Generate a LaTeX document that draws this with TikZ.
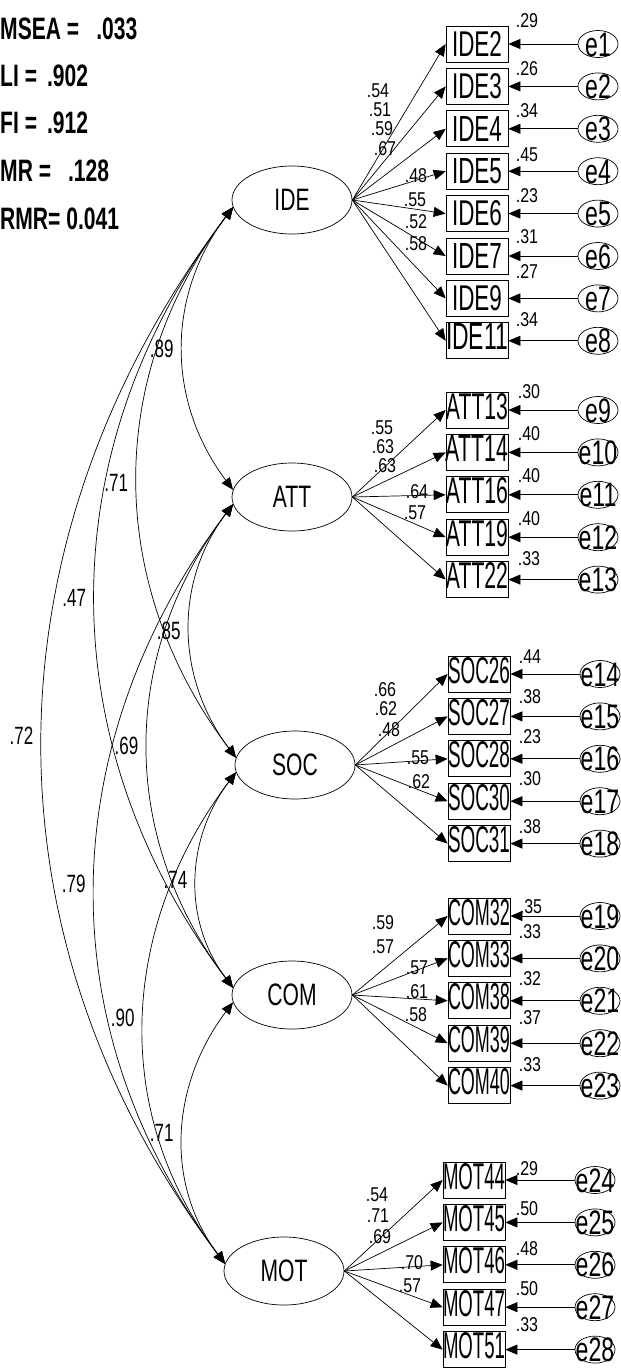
\documentclass[tikz,border=0pt]{standalone}
\usepackage{fontspec}
\setmainfont{Liberation Sans}[FakeStretch=0.68]
\newfontfamily\valuefont{Liberation Sans}[FakeStretch=0.8]
\usetikzlibrary{shapes.geometric,arrows.meta,positioning}

\newcommand{\obsname}[1]{\resizebox{50pt}{25pt}{#1}}
\newcommand{\obslong}[1]{\raisebox{4pt}[26pt][0pt]{\resizebox{62pt}{26pt}{#1}}}
\newcommand{\errname}[1]{\makebox[0pt]{\raisebox{-12pt}[0pt][0pt]{#1}}}

\tikzstyle{latent} = [
ellipse,
minimum width=120pt,
minimum height=68pt,
inner sep=0pt,
line width=0.7pt,
draw=black,
font=\fontsize{31}{31}\selectfont
]
\tikzstyle{observed} = [
rectangle,
minimum width=62pt,
minimum height=36pt,
inner sep=0pt,
line width=0.7pt,
draw=black
]
\tikzstyle{errvar} = [
ellipse,
minimum width=40pt,
minimum height=27pt,
inner sep=0pt,
line width=0.7pt,
draw=black,
font=\fontsize{34}{34}\selectfont
]
\tikzstyle{arrow} = [
line width=0.7pt,
->,
>={Triangle[length=12pt,width=10pt]}
]
\tikzstyle{covarrow} = [
line width=0.7pt,
<->,
>={Triangle[length=12pt,width=10pt]}
]
\tikzstyle{loadlabel} = [
inner sep=0pt,
font=\valuefont\fontsize{20}{20}\selectfont
]
\tikzstyle{covlabel} = [
inner sep=0pt,
left=9pt,
font=\fontsize{25}{25}\selectfont
]
\tikzstyle{fitlabel} = [
anchor=west,
inner sep=0pt,
font=\bfseries\fontsize{31}{31}\selectfont
]

\begin{document}
\begin{tikzpicture}[
x=1pt,
y=-1pt,
node distance=42.4pt
]
\useasboundingbox (0,0) rectangle (621,1368);

% Fit indices
\node (rmsea) [fitlabel] at (0,29) {MSEA =\hspace{17pt}.033};
\node (tli) [fitlabel] at (0,76) {LI =\hspace{10pt}.902};
\node (cfi) [fitlabel] at (0,123) {FI =\hspace{10pt}.912};
\node (rmr) [fitlabel] at (0,171) {MR =\hspace{17pt}.128};
\node (srmr) [fitlabel] at (0,219) {RMR= 0.041};

% Latent variables
\node (IDE) [latent] at (292,200) {IDE};
\node (ATT) [latent] at (292,497) {ATT};
\node (SOC) [latent] at (295,765) {SOC};
\node (COM) [latent] at (292,995) {COM};
\node (MOT) [latent] at (284,1271) {MOT};

% Observed variables
\node (IDE2) [observed] at (477,44) {\obsname{IDE2}};
\node (IDE3) [observed, below of=IDE2] {\obsname{IDE3}};
\node (IDE4) [observed, below of=IDE3] {\obsname{IDE4}};
\node (IDE5) [observed, below of=IDE4] {\obsname{IDE5}};
\node (IDE6) [observed, below of=IDE5] {\obsname{IDE6}};
\node (IDE7) [observed, below of=IDE6] {\obsname{IDE7}};
\node (IDE9) [observed, below of=IDE7] {\obsname{IDE9}};
\node (IDE11) [observed, below of=IDE9] {\obslong{IDE11}};

\node (ATT13) [observed] at (477,410) {\obslong{ATT13}};
\node (ATT14) [observed, below of=ATT13] {\obslong{ATT14}};
\node (ATT16) [observed, below of=ATT14] {\obslong{ATT16}};
\node (ATT19) [observed, below of=ATT16] {\obslong{ATT19}};
\node (ATT22) [observed, below of=ATT19] {\obslong{ATT22}};

\node (SOC26) [observed] at (479,674) {\obslong{SOC26}};
\node (SOC27) [observed, below of=SOC26] {\obslong{SOC27}};
\node (SOC28) [observed, below of=SOC27] {\obslong{SOC28}};
\node (SOC30) [observed, below of=SOC28] {\obslong{SOC30}};
\node (SOC31) [observed, below of=SOC30] {\obslong{SOC31}};

\node (COM32) [observed] at (479,916) {\obslong{COM32}};
\node (COM33) [observed, below of=COM32] {\obslong{COM33}};
\node (COM38) [observed, below of=COM33] {\obslong{COM38}};
\node (COM39) [observed, below of=COM38] {\obslong{COM39}};
\node (COM40) [observed, below of=COM39] {\obslong{COM40}};

\node (MOT44) [observed] at (474,1180) {\obslong{MOT44}};
\node (MOT45) [observed, below of=MOT44] {\obslong{MOT45}};
\node (MOT46) [observed, below of=MOT45] {\obslong{MOT46}};
\node (MOT47) [observed, below of=MOT46] {\obslong{MOT47}};
\node (MOT51) [observed, below of=MOT47] {\obslong{MOT51}};

% Error terms
\node (e1) [errvar, node distance=121pt, right of=IDE2] {\errname{e1}};
\node (e2) [errvar, node distance=121pt, right of=IDE3] {\errname{e2}};
\node (e3) [errvar, node distance=121pt, right of=IDE4] {\errname{e3}};
\node (e4) [errvar, node distance=121pt, right of=IDE5] {\errname{e4}};
\node (e5) [errvar, node distance=121pt, right of=IDE6] {\errname{e5}};
\node (e6) [errvar, node distance=121pt, right of=IDE7] {\errname{e6}};
\node (e7) [errvar, node distance=121pt, right of=IDE9] {\errname{e7}};
\node (e8) [errvar, node distance=121pt, right of=IDE11] {\errname{e8}};
\node (e9) [errvar, node distance=121pt, right of=ATT13] {\errname{e9}};
\node (e10) [errvar, node distance=121pt, right of=ATT14] {\errname{e10}};
\node (e11) [errvar, node distance=121pt, right of=ATT16] {\errname{e11}};
\node (e12) [errvar, node distance=121pt, right of=ATT19] {\errname{e12}};
\node (e13) [errvar, node distance=121pt, right of=ATT22] {\errname{e13}};
\node (e14) [errvar, node distance=121pt, right of=SOC26] {\errname{e14}};
\node (e15) [errvar, node distance=121pt, right of=SOC27] {\errname{e15}};
\node (e16) [errvar, node distance=121pt, right of=SOC28] {\errname{e16}};
\node (e17) [errvar, node distance=121pt, right of=SOC30] {\errname{e17}};
\node (e18) [errvar, node distance=121pt, right of=SOC31] {\errname{e18}};
\node (e19) [errvar, node distance=121pt, right of=COM32] {\errname{e19}};
\node (e20) [errvar, node distance=121pt, right of=COM33] {\errname{e20}};
\node (e21) [errvar, node distance=121pt, right of=COM38] {\errname{e21}};
\node (e22) [errvar, node distance=121pt, right of=COM39] {\errname{e22}};
\node (e23) [errvar, node distance=121pt, right of=COM40] {\errname{e23}};
\node (e24) [errvar, node distance=121pt, right of=MOT44] {\errname{e24}};
\node (e25) [errvar, node distance=121pt, right of=MOT45] {\errname{e25}};
\node (e26) [errvar, node distance=121pt, right of=MOT46] {\errname{e26}};
\node (e27) [errvar, node distance=121pt, right of=MOT47] {\errname{e27}};
\node (e28) [errvar, node distance=121pt, right of=MOT51] {\errname{e28}};

% Loadings
\node (lIDE2) [loadlabel] at (378,91) {.54};
\node (lIDE3) [loadlabel] at (380,110) {.51};
\node (lIDE4) [loadlabel] at (382,129) {.59};
\node (lIDE5) [loadlabel] at (385,149) {.67};
\node (lIDE6) [loadlabel] at (416,176) {.48};
\node (lIDE7) [loadlabel] at (415,200) {.55};
\node (lIDE9) [loadlabel] at (416,222) {.52};
\node (lIDE11) [loadlabel] at (416,244) {.58};

\node (lATT13) [loadlabel] at (382,428) {.55};
\node (lATT14) [loadlabel] at (383,447) {.63};
\node (lATT16) [loadlabel] at (385,466) {.63};
\node (lATT19) [loadlabel] at (417,492) {.64};
\node (lATT22) [loadlabel] at (415,513) {.57};

\node (lSOC26) [loadlabel] at (385,690) {.66};
\node (lSOC27) [loadlabel] at (386,709) {.62};
\node (lSOC28) [loadlabel] at (389,730) {.48};
\node (lSOC30) [loadlabel] at (418,758) {.55};
\node (lSOC31) [loadlabel] at (419,782) {.62};

\node (lCOM32) [loadlabel] at (383,923) {.59};
\node (lCOM33) [loadlabel] at (383,947) {.57};
\node (lCOM38) [loadlabel] at (417,968) {.57};
\node (lCOM39) [loadlabel] at (417,992) {.61};
\node (lCOM40) [loadlabel] at (416,1015) {.58};

\node (lMOT44) [loadlabel] at (377,1195) {.54};
\node (lMOT45) [loadlabel] at (378,1216) {.71};
\node (lMOT46) [loadlabel] at (380,1237) {.69};
\node (lMOT47) [loadlabel] at (412,1263) {.70};
\node (lMOT51) [loadlabel] at (410,1286) {.57};

% Squared multiple correlations
\node (rIDE2) [loadlabel] at (527,21) {.29};
\node (rIDE3) [loadlabel] at (527,69) {.26};
\node (rIDE4) [loadlabel] at (527,111) {.34};
\node (rIDE5) [loadlabel] at (527,155) {.45};
\node (rIDE6) [loadlabel] at (527,196) {.23};
\node (rIDE7) [loadlabel] at (527,237) {.31};
\node (rIDE9) [loadlabel] at (527,272) {.27};
\node (rIDE11) [loadlabel] at (527,320) {.34};

\node (rATT13) [loadlabel] at (529,392) {.30};
\node (rATT14) [loadlabel] at (529,434) {.40};
\node (rATT16) [loadlabel] at (529,476) {.40};
\node (rATT19) [loadlabel] at (529,519) {.40};
\node (rATT22) [loadlabel] at (529,559) {.33};

\node (rSOC26) [loadlabel] at (530,657) {.44};
\node (rSOC27) [loadlabel] at (530,697) {.38};
\node (rSOC28) [loadlabel] at (530,737) {.23};
\node (rSOC30) [loadlabel] at (530,779) {.30};
\node (rSOC31) [loadlabel] at (530,827) {.38};

\node (rCOM32) [loadlabel] at (531,907) {.35};
\node (rCOM33) [loadlabel] at (530,932) {.33};
\node (rCOM38) [loadlabel] at (530,979) {.32};
\node (rCOM39) [loadlabel] at (530,1018) {.37};
\node (rCOM40) [loadlabel] at (530,1065) {.33};

\node (rMOT44) [loadlabel] at (527,1169) {.29};
\node (rMOT45) [loadlabel] at (527,1209) {.50};
\node (rMOT46) [loadlabel] at (527,1249) {.48};
\node (rMOT47) [loadlabel] at (527,1289) {.50};
\node (rMOT51) [loadlabel] at (527,1325) {.33};

% Arrows
\draw [arrow] (IDE.east) -- (IDE2.west);
\draw [arrow] (IDE.east) -- (IDE3.west);
\draw [arrow] (IDE.east) -- (IDE4.west);
\draw [arrow] (IDE.east) -- (IDE5.west);
\draw [arrow] (IDE.east) -- (IDE6.west);
\draw [arrow] (IDE.east) -- (IDE7.west);
\draw [arrow] (IDE.east) -- (IDE9.west);
\draw [arrow] (IDE.east) -- (IDE11.west);

\draw [arrow] (ATT.east) -- (ATT13.west);
\draw [arrow] (ATT.east) -- (ATT14.west);
\draw [arrow] (ATT.east) -- (ATT16.west);
\draw [arrow] (ATT.east) -- (ATT19.west);
\draw [arrow] (ATT.east) -- (ATT22.west);

\draw [arrow] (SOC.east) -- (SOC26.west);
\draw [arrow] (SOC.east) -- (SOC27.west);
\draw [arrow] (SOC.east) -- (SOC28.west);
\draw [arrow] (SOC.east) -- (SOC30.west);
\draw [arrow] (SOC.east) -- (SOC31.west);

\draw [arrow] (COM.east) -- (COM32.west);
\draw [arrow] (COM.east) -- (COM33.west);
\draw [arrow] (COM.east) -- (COM38.west);
\draw [arrow] (COM.east) -- (COM39.west);
\draw [arrow] (COM.east) -- (COM40.west);

\draw [arrow] (MOT.east) -- (MOT44.west);
\draw [arrow] (MOT.east) -- (MOT45.west);
\draw [arrow] (MOT.east) -- (MOT46.west);
\draw [arrow] (MOT.east) -- (MOT47.west);
\draw [arrow] (MOT.east) -- (MOT51.west);

\draw [arrow] (e1) -- (IDE2);
\draw [arrow] (e2) -- (IDE3);
\draw [arrow] (e3) -- (IDE4);
\draw [arrow] (e4) -- (IDE5);
\draw [arrow] (e5) -- (IDE6);
\draw [arrow] (e6) -- (IDE7);
\draw [arrow] (e7) -- (IDE9);
\draw [arrow] (e8) -- (IDE11);
\draw [arrow] (e9) -- (ATT13);
\draw [arrow] (e10) -- (ATT14);
\draw [arrow] (e11) -- (ATT16);
\draw [arrow] (e12) -- (ATT19);
\draw [arrow] (e13) -- (ATT22);
\draw [arrow] (e14) -- (SOC26);
\draw [arrow] (e15) -- (SOC27);
\draw [arrow] (e16) -- (SOC28);
\draw [arrow] (e17) -- (SOC30);
\draw [arrow] (e18) -- (SOC31);
\draw [arrow] (e19) -- (COM32);
\draw [arrow] (e20) -- (COM33);
\draw [arrow] (e21) -- (COM38);
\draw [arrow] (e22) -- (COM39);
\draw [arrow] (e23) -- (COM40);
\draw [arrow] (e24) -- (MOT44);
\draw [arrow] (e25) -- (MOT45);
\draw [arrow] (e26) -- (MOT46);
\draw [arrow] (e27) -- (MOT47);
\draw [arrow] (e28) -- (MOT51);

% Covariances
\draw [covarrow] (IDE.187) .. controls +(127:111) and +(233:111) .. node [covlabel] (cIDEATT) {.89} (ATT.173);
\draw [covarrow] (IDE.187) .. controls +(127:215) and +(233:215) .. node [covlabel] (cIDESOC) {.71} (SOC.173);
\draw [covarrow] (IDE.187) .. controls +(127:305) and +(233:305) .. node [covlabel] (cIDECOM) {.47} (COM.173);
\draw [covarrow] (IDE.187) .. controls +(127:413) and +(233:413) .. node [covlabel] (cIDEMOT) {.72} (MOT.173);
\draw [covarrow] (ATT.187) .. controls +(127:99) and +(233:99) .. node [covlabel] (cATTSOC) {.85} (SOC.173);
\draw [covarrow] (ATT.187) .. controls +(127:189) and +(233:189) .. node [covlabel] (cATTCOM) {.69} (COM.173);
\draw [covarrow] (ATT.187) .. controls +(127:297) and +(233:297) .. node [covlabel] (cATTMOT) {.79} (MOT.173);
\draw [covarrow] (SOC.187) .. controls +(127:84) and +(233:84) .. node [covlabel] (cSOCCOM) {.74} (COM.173);
\draw [covarrow] (SOC.187) .. controls +(127:192) and +(233:192) .. node [covlabel] (cSOCMOT) {.90} (MOT.173);
\draw [covarrow] (COM.187) .. controls +(127:102) and +(233:102) .. node [covlabel] (cCOMMOT) {.71} (MOT.173);

\end{tikzpicture}
\end{document}
